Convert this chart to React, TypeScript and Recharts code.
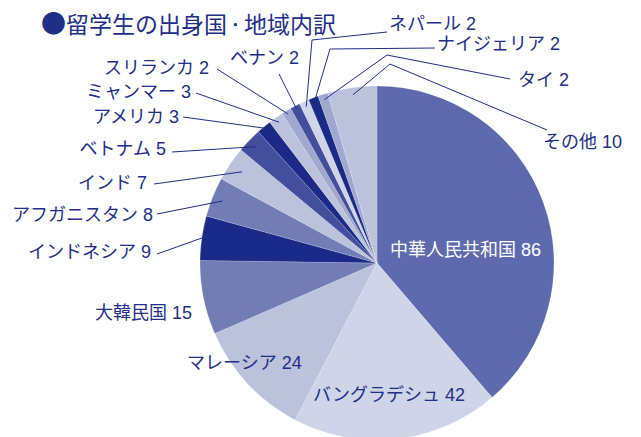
import React from 'react';
import { PieChart, Pie, Cell } from 'recharts';

const categories = ['中華人民共和国', 'バングラデシュ', 'マレーシア', '大韓民国', 'インドネシア', 'アフガニスタン', 'インド', 'ベトナム', 'アメリカ', 'ミャンマー', 'スリランカ', 'ベナン', 'ネパール', 'ナイジェリア', 'タイ', 'その他'];
const values = [86, 42, 24, 15, 9, 8, 7, 5, 3, 3, 2, 2, 2, 2, 2, 10];
const colors = ['#5e6aad', '#d0d4e8', '#bcc1dc', '#737db5', '#1b2a86', '#737db5', '#bcc1dc', '#434f9d', '#1b2a86', '#bcc1dc', '#a1a8cf', '#434f9d', '#d0d4e8', '#1b2a86', '#a1a8cf', '#bcc1dc'];
const titleParts = ['留学生の出身国', '·', '地域内訳'];

// label placement, offsets from pie centre; line = path points from label toward slice
type Layout = { dx: number; dy: number; anchor: 'start' | 'end'; white?: boolean; line?: number[][]; r?: number };
const labelLayout: Layout[] = [
  { dx: 13, dy: -13, anchor: 'start', white: true },
  { dx: -64, dy: 132, anchor: 'start' },
  { dx: -190, dy: 100, anchor: 'start' },
  { dx: -185, dy: 50, anchor: 'end' },
  { dx: -226, dy: -11, anchor: 'end', line: [[-220, -9]], r: 1.0 },
  { dx: -224, dy: -48, anchor: 'end', line: [[-220, -49]], r: 0.94 },
  { dx: -230, dy: -80, anchor: 'end', line: [[-223, -79]], r: 0.92 },
  { dx: -211, dy: -114, anchor: 'end', line: [[-205, -111]], r: 0.95 },
  { dx: -198, dy: -146, anchor: 'end', line: [[-194, -146]], r: 0.99 },
  { dx: -186, dy: -171, anchor: 'end', line: [[-181, -170]], r: 0.97 },
  { dx: -168, dy: -195, anchor: 'end', line: [[-160, -194]], r: 0.98 },
  { dx: -78, dy: -205, anchor: 'end', line: [[-98, -189]], r: 0.98 },
  { dx: 12, dy: -239, anchor: 'start', line: [[10, -231], [-65, -223]], r: 0.97 },
  { dx: 60, dy: -219, anchor: 'start', line: [[58, -215], [-47, -214]], r: 0.98 },
  { dx: 141, dy: -183, anchor: 'start', line: [[133, -184], [10, -208]], r: 0.97 },
  { dx: 166, dy: -121, anchor: 'start', line: [[170, -133], [13, -199]], r: 0.96 },
];

const data = categories.map((name, i) => ({ name, value: values[i] }));

const NAVY = '#1f2e87';
const FONT = '"Liberation Sans", "Noto Sans CJK JP", sans-serif';
const CX = 377;
const CY = 263;
const R = 177;

const renderLabel = (props: any) => {
  const { index, midAngle } = props;
  const cx = typeof props.cx === 'number' ? props.cx : CX;
  const cy = typeof props.cy === 'number' ? props.cy : CY;
  const outer = typeof props.outerRadius === 'number' ? props.outerRadius : R;
  const lay = labelLayout[index];
  const text = `${categories[index]} ${values[index]}`;
  let path: React.ReactNode = null;
  if (lay.line) {
    const rad = (midAngle * Math.PI) / 180;
    const rr = outer * (lay.r ?? 0.97);
    const sx = cx + rr * Math.cos(rad);
    const sy = cy - rr * Math.sin(rad);
    const pts = lay.line.map(([x, y]) => `${cx + x},${cy + y}`).concat([`${sx},${sy}`]).join(' ');
    path = <polyline points={pts} fill="none" stroke={NAVY} strokeWidth={1} />;
  }
  return (
    <g key={`lbl-${index}`}>
      {path}
      <text
        x={cx + lay.dx}
        y={cy + lay.dy}
        textAnchor={lay.anchor}
        dominantBaseline="central"
        fill={lay.white ? '#ffffff' : NAVY}
        fontSize={18}
        fontFamily={FONT}
      >
        {text}
      </text>
    </g>
  );
};

export default function App() {
  return (
    <div style={{ position: 'absolute', left: 0, top: 0, width: 641, height: 437, background: '#fff', overflow: 'hidden' }}>
      <div
        style={{
          position: 'absolute',
          left: 41,
          top: 9,
          fontSize: 23,
          lineHeight: '26px',
          color: NAVY,
          fontFamily: '"Noto Sans CJK JP", sans-serif',
          whiteSpace: 'nowrap',
          zIndex: 2,
        }}
      >
        <span style={{ fontSize: 25 }}>●</span>
        {titleParts[0]}
        <span style={{ padding: '0 2px' }}>{titleParts[1]}</span>
        {titleParts[2]}
      </div>
      <PieChart width={641} height={437} margin={{ top: 0, right: 0, bottom: 0, left: 0 }}>
        <Pie
          data={data}
          dataKey="value"
          nameKey="name"
          cx={CX}
          cy={CY}
          outerRadius={R}
          startAngle={90}
          endAngle={-270}
          stroke="rgba(255,255,255,0.35)"
          strokeWidth={0.5}
          label={renderLabel}
          labelLine={false}
          isAnimationActive={false}
        >
          {data.map((d, i) => (
            <Cell key={d.name} fill={colors[i]} />
          ))}
        </Pie>
      </PieChart>
    </div>
  );
}
